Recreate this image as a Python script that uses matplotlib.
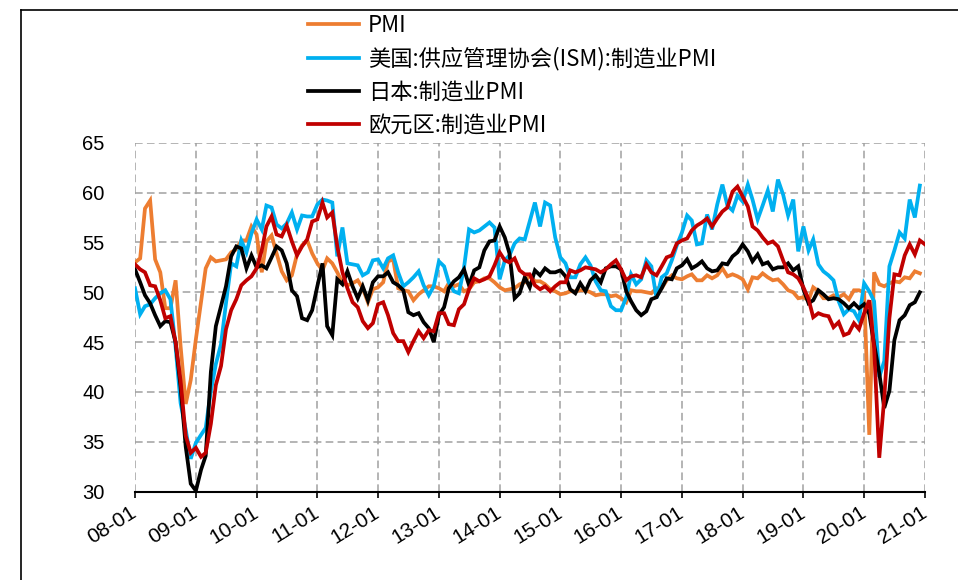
import pandas as pd
import matplotlib
matplotlib.use("Agg")
import matplotlib.pyplot as plt
import matplotlib.dates as mdates
from matplotlib.lines import Line2D

# monthly data, starting 2008-01
pmi_cn = [53.0, 53.4, 58.4, 59.2, 53.3, 52.0, 48.4, 48.4, 51.2, 44.6, 38.8, 41.2,
          45.3, 49.0, 52.4, 53.5, 53.1, 53.2, 53.3, 54.0, 54.3, 55.2, 55.2, 56.6,
          55.8, 52.0, 55.1, 55.7, 53.9, 52.1, 51.2, 51.7, 53.8, 54.7, 55.2, 53.9,
          52.9, 52.2, 53.4, 52.9, 52.0, 50.9, 50.7, 50.9, 51.2, 50.4, 49.0, 50.3,
          50.5, 51.0, 53.1, 53.3, 50.4, 50.2, 50.1, 49.2, 49.8, 50.2, 50.6, 50.6,
          50.4, 50.1, 50.9, 50.6, 50.8, 50.1, 50.3, 51.0, 51.1, 51.4, 51.4, 51.0,
          50.5, 50.2, 50.3, 50.4, 50.8, 51.0, 51.7, 51.1, 51.1, 50.8, 50.3, 50.1,
          49.8, 49.9, 50.1, 50.1, 50.2, 50.2, 50.0, 49.7, 49.8, 49.8, 49.6, 49.7,
          49.4, 49.0, 50.2, 50.1, 50.1, 50.0, 49.9, 50.4, 50.4, 51.2, 51.7, 51.4,
          51.3, 51.6, 51.8, 51.2, 51.2, 51.7, 51.4, 51.7, 52.4, 51.6, 51.8, 51.6,
          51.3, 50.3, 51.5, 51.4, 51.9, 51.5, 51.2, 51.3, 50.8, 50.2, 50.0, 49.4,
          49.5, 49.2, 50.5, 50.1, 49.4, 49.4, 49.7, 49.5, 49.8, 49.3, 50.2, 50.2,
          50.0, 35.7, 52.0, 50.8, 50.6, 50.9, 51.1, 51.0, 51.5, 51.4, 52.1, 51.9]

ism_us = [50.4, 47.8, 48.6, 48.8, 49.4, 49.9, 50.2, 49.3, 44.5, 38.9, 36.2, 33.3,
          34.9, 35.7, 36.4, 40.1, 42.8, 44.8, 48.9, 52.9, 52.6, 55.2, 54.0, 55.9,
          57.3, 56.3, 58.7, 58.5, 56.8, 56.4, 56.9, 58.0, 56.3, 57.7, 57.6, 57.6,
          58.8, 59.3, 59.2, 59.0, 53.6, 56.5, 52.9, 52.8, 52.7, 51.7, 52.0, 53.2,
          53.3, 52.4, 53.4, 53.7, 52.0, 50.6, 51.0, 51.5, 52.1, 50.7, 49.7, 50.6,
          53.1, 52.6, 51.0, 50.1, 49.9, 52.5, 56.3, 56.0, 56.2, 56.6, 57.0, 56.5,
          51.3, 53.2, 53.7, 54.9, 55.4, 55.3, 57.1, 59.0, 56.6, 59.0, 58.7, 55.5,
          53.5, 52.9, 51.5, 51.5, 52.8, 53.5, 52.7, 51.1, 50.2, 50.1, 48.6, 48.2,
          48.2, 49.5, 51.8, 50.8, 51.3, 53.2, 52.6, 49.4, 51.5, 51.9, 53.2, 54.7,
          56.0, 57.7, 57.2, 54.8, 54.9, 57.8, 56.3, 58.8, 60.8, 58.7, 58.2, 59.7,
          59.1, 60.8, 59.3, 57.3, 58.7, 60.2, 58.1, 61.3, 59.8, 57.7, 59.3, 54.1,
          56.6, 54.2, 55.3, 52.8, 52.1, 51.7, 51.2, 49.1, 47.8, 48.3, 48.1, 47.2,
          50.9, 50.1, 49.1, 41.5, 43.1, 52.6, 54.2, 56.0, 55.4, 59.3, 57.5, 60.7]

pmi_jp = [52.3, 51.0, 49.7, 48.9, 47.7, 46.6, 47.1, 47.0, 45.0, 40.5, 34.5, 30.8,
          30.1, 32.2, 33.6, 42.0, 46.6, 48.6, 50.6, 53.6, 54.6, 54.4, 52.4, 53.7,
          52.5, 52.7, 52.4, 53.5, 54.6, 54.2, 52.9, 50.2, 49.6, 47.4, 47.2, 48.2,
          50.6, 52.9, 46.6, 45.7, 51.3, 50.8, 52.1, 50.6, 49.4, 50.6, 49.2, 51.0,
          51.6, 51.6, 52.0, 51.0, 50.7, 50.2, 48.0, 47.7, 47.9, 47.0, 46.4, 45.0,
          47.7, 48.5, 50.4, 51.1, 51.5, 52.3, 50.7, 52.2, 52.5, 54.2, 55.1, 55.2,
          56.6, 55.5, 53.9, 49.4, 49.9, 51.5, 50.5, 52.2, 51.7, 52.4, 52.0, 52.0,
          52.2, 51.6, 50.3, 49.9, 50.9, 50.1, 51.2, 51.7, 51.0, 52.4, 52.6, 52.6,
          52.3, 50.1, 49.1, 48.2, 47.7, 48.1, 49.3, 49.5, 50.4, 51.4, 51.3, 52.4,
          52.7, 53.3, 52.4, 52.7, 53.1, 52.4, 52.1, 52.2, 52.9, 52.8, 53.6, 54.0,
          54.8, 54.1, 53.1, 53.8, 52.8, 53.0, 52.3, 52.5, 52.5, 52.9, 52.2, 52.6,
          50.3, 48.9, 49.2, 50.2, 49.8, 49.3, 49.4, 49.3, 48.9, 48.4, 48.9, 48.4,
          48.8, 47.8, 44.8, 41.9, 38.4, 40.1, 45.2, 47.2, 47.7, 48.7, 49.0, 50.0]

pmi_ez = [52.8, 52.3, 52.0, 50.7, 50.6, 49.2, 47.4, 47.6, 45.0, 41.1, 35.6, 33.9,
          34.4, 33.5, 33.9, 36.8, 40.7, 42.6, 46.3, 48.2, 49.3, 50.7, 51.2, 51.6,
          52.4, 54.2, 56.6, 57.6, 55.8, 55.6, 56.7, 55.1, 53.7, 54.6, 55.3, 57.1,
          57.3, 59.0, 57.5, 58.0, 54.6, 52.0, 50.4, 49.0, 48.5, 47.1, 46.4, 46.9,
          48.8, 49.0, 47.7, 45.9, 45.1, 45.1, 44.0, 45.1, 46.1, 45.4, 46.2, 46.1,
          47.9, 47.9, 46.8, 46.7, 48.3, 48.8, 50.3, 51.4, 51.1, 51.3, 51.6, 52.7,
          54.0, 53.2, 53.0, 53.4, 52.2, 51.8, 51.8, 50.7, 50.3, 50.6, 50.1, 50.6,
          51.0, 51.0, 52.2, 52.0, 52.2, 52.5, 52.4, 52.3, 52.0, 52.3, 52.8, 53.2,
          52.3, 51.2, 51.6, 51.7, 51.5, 52.8, 52.0, 51.7, 52.6, 53.5, 53.7, 54.9,
          55.2, 55.4, 56.2, 56.7, 57.0, 57.4, 56.6, 57.4, 58.1, 58.5, 60.1, 60.6,
          59.6, 58.6, 56.6, 56.2, 55.5, 54.9, 55.1, 54.6, 53.2, 52.0, 51.8, 51.4,
          50.5, 49.3, 47.5, 47.9, 47.7, 47.6, 46.5, 47.0, 45.7, 45.9, 46.9, 46.3,
          47.9, 49.2, 44.5, 33.4, 39.4, 47.4, 51.8, 51.7, 53.7, 54.8, 53.8, 55.2,
          54.8]

labels = ["PMI", "美国:供应管理协会(ISM):制造业PMI", "日本:制造业PMI", "欧元区:制造业PMI"]
colors = ["#ED7D31", "#00B0F0", "#000000", "#C00000"]

start = "2008-01-01"

fig = plt.figure(figsize=(9.58, 5.8), dpi=100)
ax = fig.add_axes([135 / 958, 1 - 491.7 / 580, 790 / 958, 349 / 580])

series = [pmi_cn, ism_us, pmi_jp, pmi_ez]
handles = []
for vals, lab, col in zip(series, labels, colors):
    dates = pd.date_range(start, periods=len(vals), freq="MS")
    h, = ax.plot(dates, vals, color=col, lw=2.7, label=lab, solid_joinstyle="miter")
    handles.append(h)

ax.set_ylim(30, 65)
ax.set_yticks(range(30, 66, 5))
ax.set_xlim(pd.Timestamp("2008-01-01"), pd.Timestamp("2021-01-01"))
ax.xaxis.set_major_locator(mdates.YearLocator())
ax.xaxis.set_major_formatter(mdates.DateFormatter("%y-%m"))

ax.grid(True, color="#A0A0A0", lw=1.1, linestyle=(0, (5, 2.8)))
ax.set_axisbelow(True)
for s in ["left", "top", "right"]:
    ax.spines[s].set_visible(False)
ax.spines["bottom"].set_linewidth(1.5)

ax.tick_params(axis="y", length=0, pad=22, labelsize=14.5)
ax.tick_params(axis="x", length=4, width=1.2, direction="out", pad=10, labelsize=15)
for t in ax.get_yticklabels():
    t.set_fontfamily("Liberation Sans")
for t in ax.get_xticklabels():
    t.set_fontfamily("Liberation Sans")
    t.set_rotation(32)
    t.set_ha("right")
    t.set_va("center")
    t.set_rotation_mode("anchor")

fig.legend(handles=handles, loc="upper left", bbox_to_anchor=(308 / 958, 1 - 14 / 580),
           frameon=False, borderpad=0, borderaxespad=0, handlelength=2.3,
           handletextpad=0.4, labelspacing=0.45,
           prop={"family": ["Noto Sans CJK SC", "DejaVu Sans"], "size": 16})

# outer frame
fig.add_artist(Line2D([21 / 958, 21 / 958], [0, 1 - 10 / 580], color="black", lw=1.2))
fig.add_artist(Line2D([21 / 958, 1], [1 - 10 / 580, 1 - 10 / 580], color="black", lw=1.2))

fig.savefig("out.png", dpi=100)
